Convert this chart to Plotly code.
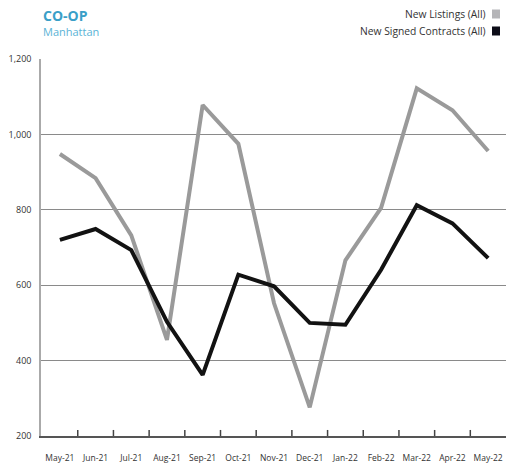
import plotly.graph_objects as go

months = ["May-21", "Jun-21", "Jul-21", "Aug-21", "Sep-21", "Oct-21", "Nov-21",
          "Dec-21", "Jan-22", "Feb-22", "Mar-22", "Apr-22", "May-22"]
new_listings = [948, 884, 732, 455, 1078, 975, 552, 276, 666, 805, 1122, 1064, 956]
new_contracts = [720, 749, 693, 503, 362, 628, 597, 500, 495, 641, 812, 764, 672]
y_ticks = [200, 400, 600, 800, 1000, 1200]
y_tick_text = ["200", "400", "600", "800", "1,000", "1,200"]

GRAY = "#9a9a9a"
BLACK = "#121212"
FONT = "Open Sans"

fig = go.Figure()
fig.add_trace(go.Scatter(x=list(range(len(months))), y=new_listings, mode="lines",
                         line=dict(color=GRAY, width=4), name="New Listings (All)",
                         showlegend=False))
fig.add_trace(go.Scatter(x=list(range(len(months))), y=new_contracts, mode="lines",
                         line=dict(color=BLACK, width=4), name="New Signed Contracts (All)",
                         showlegend=False))

fig.update_layout(
    width=506, height=469,
    margin=dict(l=41, r=0, t=59, b=33),
    plot_bgcolor="white", paper_bgcolor="white",
    font=dict(family=FONT, color="#333333"),
    xaxis=dict(
        range=[-0.53, 12.5],
        tickmode="array", tickvals=list(range(len(months))), ticktext=months,
        tickfont=dict(size=8.5, color="#333333"),
        showgrid=False, zeroline=False,
        showline=True, linecolor="#555555", linewidth=1.5,
        ticks="", ticklabelstandoff=13,
    ),
    yaxis=dict(
        range=[200, 1200],
        tickmode="array", tickvals=y_ticks, ticktext=y_tick_text,
        tickfont=dict(size=9, color="#333333"),
        showgrid=True, gridcolor="#8a8a8a", gridwidth=1.3,
        zeroline=False, showline=True, linecolor="#aaaaaa", linewidth=1.5,
        ticks="", ticklabelstandoff=6,
    ),
)

# boundary tick marks (inside, pointing up) between categories
for i in range(len(months) - 1):
    fig.add_shape(type="line", xref="x", yref="paper", x0=i + 0.5, x1=i + 0.5,
                  y0=0, y1=0.016, line=dict(color="#444444", width=1.5))

# title
fig.add_annotation(text="<b>CO-OP</b>", xref="paper", yref="paper", x=0.0, y=1.0,
                   yshift=44, xanchor="left", yanchor="middle", showarrow=False,
                   font=dict(size=14, color="#3a9fc8", family=FONT))
fig.add_annotation(text="Manhattan", xref="paper", yref="paper", x=0.0, y=1.0,
                   yshift=28, xanchor="left", yanchor="middle", showarrow=False,
                   font=dict(size=11, color="#5ab3d6", family=FONT))

# legend (text with swatch on right)
legend_items = [("New Listings (All)", "#b5b5b8", 14), ("New Signed Contracts (All)", "#0d0d18", 31)]
for label, col, ypix in legend_items:
    fig.add_annotation(text=label, xref="paper", yref="paper", x=(488 - 41) / 465,
                       y=1.0, yshift=59 - ypix, xanchor="right", yanchor="middle",
                       showarrow=False, font=dict(size=10.3, color="#333333", family=FONT))
    fig.add_shape(type="rect", xref="paper", yref="paper",
                  x0=(492 - 41) / 465, x1=(500 - 41) / 465,
                  y0=1 + (59 - ypix - 4.5) / 377, y1=1 + (59 - ypix + 4.5) / 377,
                  fillcolor=col, line=dict(width=0))

fig.write_html("out.html")
